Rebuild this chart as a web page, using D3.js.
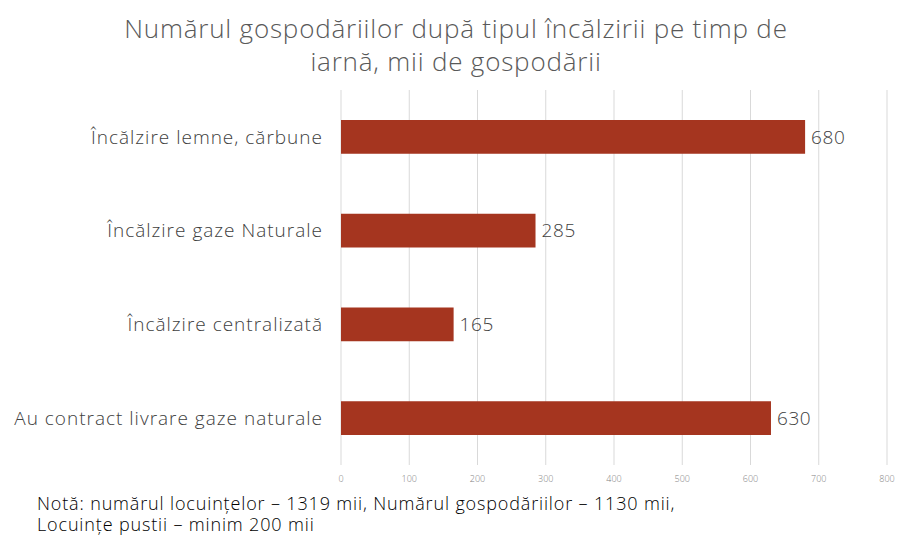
<!DOCTYPE html>
<html>
<head>
<meta charset="utf-8">
<script src="https://cdn.jsdelivr.net/npm/d3@7"></script>
<style>
  body { margin: 0; background: #fff; }
  svg { font-family: "Open Sans", "Lato", sans-serif; font-weight: 300; }
</style>
</head>
<body>
<svg id="chart" width="898" height="537"></svg>
<script>
// data
const categories = [
    "Încălzire lemne, cărbune",
    "Încălzire gaze Naturale",
    "Încălzire centralizată",
    "Au contract livrare gaze naturale"
];
const values = [680, 285, 165, 630];
const tickValues = [0, 100, 200, 300, 400, 500, 600, 700, 800];
const titleLines = ["Numărul gospodăriilor după tipul încălzirii pe timp de", "iarnă, mii de gospodării"];
const noteLines = ["Notă: numărul locuințelor – 1319 mii, Numărul gospodăriilor – 1130 mii,", "Locuințe pustii – minim 200 mii"];

const svg = d3.select("#chart");
const margin = { left: 341, right: 11, top: 90, bottom: 72 };
const width = 898, height = 537;

const x = d3.scaleLinear().domain([0, 800]).range([margin.left, width - margin.right]);
const y = d3.scaleBand().domain(categories).range([margin.top, height - margin.bottom]).paddingInner(0.64).paddingOuter(0.32);

// gridlines
svg.append("g").selectAll("line").data(tickValues).join("line")
    .attr("x1", d => x(d)).attr("x2", d => x(d))
    .attr("y1", margin.top).attr("y2", height - margin.bottom)
    .attr("stroke", "#d9d9d9").attr("stroke-width", 1);

// tick labels
svg.append("g").selectAll("text").data(tickValues).join("text")
    .attr("x", d => x(d)).attr("y", height - margin.bottom + 17)
    .attr("text-anchor", "middle").attr("font-size", 9).attr("fill", "#7f7f7f")
    .text(d => d);

// bars
svg.append("g").selectAll("rect").data(values).join("rect")
    .attr("x", x(0)).attr("y", (d, i) => y(categories[i]))
    .attr("width", d => x(d) - x(0)).attr("height", y.bandwidth())
    .attr("fill", "#a5351f");

// value labels
svg.append("g").selectAll("text").data(values).join("text")
    .attr("x", d => x(d) + 6).attr("y", (d, i) => y(categories[i]) + y.bandwidth() / 2)
    .attr("dy", "0.35em").attr("font-size", 19).attr("fill", "#404040")
    .attr("letter-spacing", 0.6)
    .text(d => d);

// category labels
svg.append("g").selectAll("text").data(categories).join("text")
    .attr("x", 323).attr("y", d => y(d) + y.bandwidth() / 2)
    .attr("dy", "0.35em").attr("text-anchor", "end").attr("font-size", 19).attr("fill", "#404040")
    .attr("letter-spacing", 1.0)
    .text(d => d);

// title
svg.append("g").selectAll("text").data(titleLines).join("text")
    .attr("x", 456).attr("y", (d, i) => 38 + i * 33)
    .attr("text-anchor", "middle").attr("font-size", 26).attr("fill", "#595959")
    .attr("letter-spacing", 0.8)
    .text(d => d);

// note
svg.append("g").selectAll("text").data(noteLines).join("text")
    .attr("x", 37).attr("y", (d, i) => 510 + i * 21)
    .attr("font-size", 18).attr("fill", "#000")
    .attr("letter-spacing", 0.85)
    .text(d => d);
</script>
</body>
</html>
